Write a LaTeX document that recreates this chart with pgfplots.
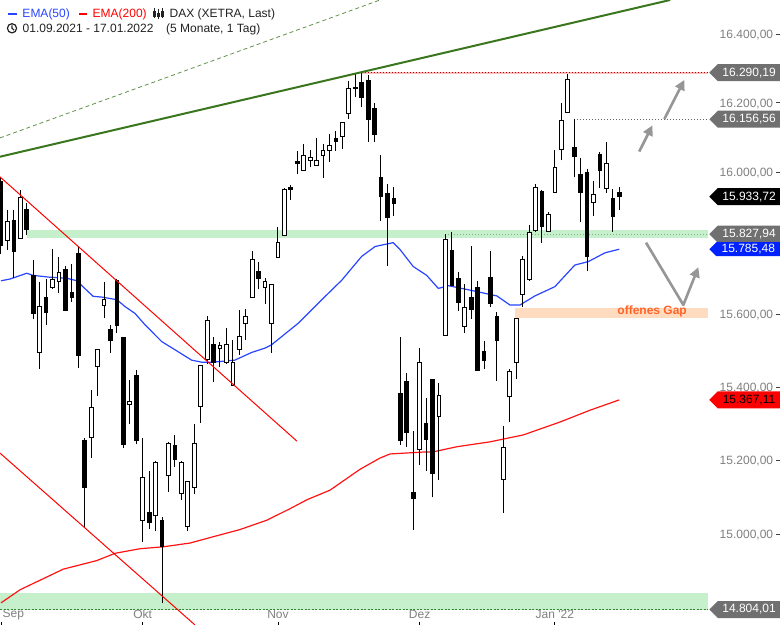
\documentclass[border=0pt]{standalone}
\usepackage{pgfplots}
\pgfplotsset{compat=1.18}
\usepackage{pgfplotstable}
\usepackage{fontspec}
\setmainfont{Liberation Sans}
\usetikzlibrary{arrows.meta,shapes.symbols}

\definecolor{emablue}{RGB}{40,70,255}
\definecolor{emared}{RGB}{255,20,20}
\definecolor{bandgreen}{RGB}{198,239,204}
\definecolor{trendgreen}{RGB}{58,118,30}
\definecolor{gapfill}{RGB}{255,220,192}
\definecolor{gaptext}{RGB}{255,100,40}
\definecolor{tickgray}{RGB}{128,128,128}
\definecolor{boxgray}{RGB}{112,112,112}
\definecolor{arrowgray}{RGB}{150,150,150}
\definecolor{boxblue}{RGB}{0,34,255}
\definecolor{legtext}{RGB}{34,34,34}

\newcommand\lab{\fontsize{12bp}{14bp}\selectfont}
\newcommand\ytl[1]{\mbox{#1\hspace{2.7bp}\textcolor{black!75}{\rule[0.33em]{4bp}{0.9bp}}}}

% d = trading day index (0 = 01.09.2021), o h l c, t = 1 rising (white), 0 falling (black)
\pgfplotstableread{
d o h l c t
0 15979 15987 15772 15795 0
1 15810 15897 15784 15863 1
2 15866 15895 15704 15779 0
3 15816 15953 15814 15930 1
4 15897 15916 15826 15840 0
5 15713 15756 15591 15606 0
6 15497 15695 15452 15625 1
7 15650 15701 15575 15608 0
8 15678 15786 15673 15702 1
9 15696 15763 15664 15721 1
10 15730 15739 15612 15614 0
11 15665 15744 15638 15650 0
12 15774 15795 15456 15489 0
13 15258 15263 15024 15129 0
14 15265 15395 15208 15347 1
15 15461 15507 15378 15505 1
16 15628 15693 15594 15644 1
17 15562 15574 15497 15530 0
18 15699 15702 15553 15572 0
19 15539 15541 15236 15245 0
20 15356 15422 15302 15364 1
21 15433 15450 15247 15258 0
22 15042 15264 14984 15157 1
23 15062 15174 15018 15036 0
24 15054 15201 15013 15197 1
25 15040 15051 14820 14971 0
26 15161 15252 15118 15249 1
27 15243 15270 15186 15206 0
28 15114 15201 15096 15198 1
29 15024 15146 15013 15145 1
30 15130 15302 15111 15249 1
31 15349 15463 15305 15462 1
32 15479 15600 15466 15586 1
33 15519 15542 15417 15472 0
34 15508 15526 15458 15516 1
35 15472 15567 15466 15521 1
36 15408 15532 15406 15472 1
37 15507 15616 15491 15542 1
38 15579 15618 15532 15597 1
39 15651 15782 15650 15756 1
40 15723 15750 15673 15704 0
41 15678 15704 15632 15695 1
42 15579 15688 15497 15687 1
43 15763 15849 15762 15805 1
44 15824 15960 15822 15953 1
45 15960 15968 15925 15955 0
46 16036 16065 15998 16029 0
47 16010 16084 16009 16051 1
48 16037 16067 16018 16044 1
49 16024 16101 16023 16039 1
50 16051 16084 15987 16067 1
51 16065 16113 16034 16082 1
52 16099 16122 16065 16091 0
53 16105 16147 16070 16146 1
54 16173 16266 16156 16245 1
55 16248 16286 16218 16242 0
56 16261 16290.19 16192 16219 0
57 16269 16284 16091 16156 0
58 16187 16202 16091 16113 0
59 15988 16053 15865 15934 0
60 15942 15972 15739 15875 0
61 15928 15963 15878 15914 0
62 15384 15542 15245 15256 0
63 15419 15441 15240 15278 0
64 15117 15281 15015 15100 0
65 15231 15511 15190 15471 1
66 15302 15372 15175 15261 0
67 15422 15422 15103 15169 0
68 15322 15413 15150 15381 1
69 15544 15829 15543 15815 1
70 15781 15833 15682 15683 0
71 15704 15723 15614 15637 0
72 15569 15688 15551 15623 1
73 15651 15795 15591 15618 0
74 15679 15697 15447 15448 0
75 15500 15530 15454 15477 0
76 15707 15779 15623 15634 0
77 15598 15609 15419 15532 0
78 15152 15296 15062 15238 1
79 15378 15451 15306 15447 1
80 15472 15594 15425 15593 1
81 15660 15767 15623 15756 1
82 15702 15854 15697 15833 1
83 15838 15972 15833 15961 1
84 15950 15953 15804 15849 0
85 15835 15892 15834 15884 1
86 15946 16067 15945 16018 1
87 16069 16202 16037 16151 1
88 16176 16285 16175 16272 1
89 16075 16156.56 15989 16048 0
90 15998 16044 15863 15946 0
91 16002 16012 15725 15765 0
92 15919 15977 15880 15941 1
93 16053 16061 15958 16008 0
94 15958 16091 15944 16029 1
95 15928 15956 15835 15880 0
96 15947 15963 15895 15933.72 0
}\candles

\pgfplotstableread{
d v
0 15697
1.4 15702
4.0 15718
5.0 15713
7.6 15707
10.25 15704
11.8 15697
13.0 15676
14.3 15653
15.8 15651
18.0 15644
19.25 15625
20.8 15606
22.4 15574
24.95 15528
27.0 15505
29.6 15477
31.2 15472
32.7 15472
36.3 15477
38.9 15497
41.0 15510
42.0 15519
46.2 15579
49.8 15644
52.9 15699
56.0 15765
58.1 15793
60.9 15804
62.0 15784
64.0 15737
66.1 15713
67.9 15676
69.5 15683
72.8 15671
77.0 15655
79.0 15630
80.6 15630
82.9 15655
86.0 15681
89.1 15741
91.2 15751
93.8 15776
96 15785.48
}\emafifty

\pgfplotstableread{
d v
0 14822
2.95 14856
9.67 14911
14.86 14933
17.7 14953
21.6 14965
25.2 14971
29.35 14980
32.97 14997
37.1 15017
41.3 15042
44.9 15073
47.5 15096
51.1 15123
55.75 15179
58.85 15209
60.4 15220
65.6 15225
67.1 15226
70.8 15240
75.9 15253
81.1 15272
86.8 15307
91.5 15340
96 15367.11
}\ematwohundred

\begin{document}
\begin{tikzpicture}[x=1bp,y=1bp]
\useasboundingbox (0,0) rectangle (780,625);
\fill[white] (0,0) rectangle (780,625);
\begin{axis}[
  at={(0,0)}, anchor=south west,
  scale only axis, width=708bp, height=625bp,
  xmin=-0.155, xmax=109.78,
  y coord trafo/.code={\begingroup\pgfkeys{/pgf/fpu=true,/pgf/fpu/output format=fixed}\pgfmathparse{ln(#1)}\xdef\lntmp{\pgfmathresult}\endgroup\let\pgfmathresult\lntmp},
  y coord inv trafo/.code={\begingroup\pgfkeys{/pgf/fpu=true,/pgf/fpu/output format=fixed}\pgfmathparse{exp(#1)}\xdef\lntmp{\pgfmathresult}\endgroup\let\pgfmathresult\lntmp},
  ymin=14762.9, ymax=16502.6,
  clip=false,
  axis line style={draw=none},
  xtick={0,22,43,65,86},
  xticklabels={{\makebox[0pt][l]{\hspace{1.7bp}Sep}},Okt,Nov,Dez,{Jan \textquotesingle 22}},
  xtick pos=left, tick align=inside, major tick length=3bp,
  xtick style={draw=black, line width=0.8bp},
  xticklabel style={anchor=center, yshift=10.5bp, text=tickgray, font=\lab},
  ytick={15000,15200,15400,15600,16000,16200,16400},
  yticklabels={{\ytl{15.000,00}},{\ytl{15.200,00}},{\ytl{15.400,00}},{\ytl{15.600,00}},{\ytl{16.000,00}},{\ytl{16.200,00}},{\ytl{16.400,00}}},
  yticklabel pos=right,
  ytick style={draw=none},
  yticklabel style={anchor=east, xshift=72bp, inner sep=0pt, text=tickgray, font=\lab},
]
% bands
\addplot[draw=none, fill=bandgreen, forget plot] coordinates {(4.05,15819) (109.78,15819) (109.78,15838.5) (4.05,15838.5)} -- cycle;
\addplot[draw=none, fill=bandgreen, forget plot] coordinates {(-0.155,14803) (109.78,14803) (109.78,14848) (-0.155,14848)} -- cycle;
\addplot[draw=none, fill=gapfill, forget plot] coordinates {(79.8,15592.5) (109.78,15592.5) (109.78,15620.4) (79.8,15620.4)} -- cycle;
% level lines
\addplot[color=black!45!green!60!gray, line width=0.7bp, dash pattern=on 2bp off 1.5bp, forget plot] coordinates {(-0.155,14804.01) (109.78,14804.01)};
\addplot[color=black!60!green!50, line width=0.8bp, dash pattern=on 1bp off 2bp, forget plot] coordinates {(69,15827.94) (109.78,15827.94)};
\addplot[color=red!25, line width=2.2bp, forget plot] coordinates {(56,16289) (109.78,16289)};
\addplot[color=red!70!black, line width=0.7bp, dash pattern=on 1bp off 2bp, forget plot] coordinates {(56,16290.19) (109.78,16290.19)};
\addplot[color=black!60, line width=0.8bp, dash pattern=on 1bp off 2bp, forget plot] coordinates {(89,16156.56) (109.78,16156.56)};
% moving averages
\addplot[color=emared, line width=1.2bp, forget plot] table[x=d, y=v] {\ematwohundred};
\addplot[color=emablue, line width=1.2bp, forget plot] table[x=d, y=v] {\emafifty};
% candles
\pgfplotstablegetrowsof{\candles}
\pgfmathtruncatemacro\nrows{\pgfplotsretval-1}
\pgfplotsforeachungrouped \i in {0,...,\nrows}{%
  \pgfplotstablegetelem{\i}{d}\of\candles \let\cd\pgfplotsretval
  \pgfplotstablegetelem{\i}{o}\of\candles \let\co\pgfplotsretval
  \pgfplotstablegetelem{\i}{h}\of\candles \let\ch\pgfplotsretval
  \pgfplotstablegetelem{\i}{l}\of\candles \let\cl\pgfplotsretval
  \pgfplotstablegetelem{\i}{c}\of\candles \let\cc\pgfplotsretval
  \pgfmathsetmacro\xa{\cd-0.29}%
  \pgfmathsetmacro\xb{\cd+0.29}%
  \pgfplotstablegetelem{\i}{t}\of\candles
  \ifnum\pgfplotsretval=1 \def\cfill{white}\else\def\cfill{black}\fi
  \edef\doplot{%
    \noexpand\addplot[black, line width=1bp, forget plot] coordinates {(\cd,\cl) (\cd,\ch)};
    \noexpand\addplot[draw=black, fill=\cfill, line width=0.9bp, forget plot] coordinates {(\xa,\co) (\xb,\co) (\xb,\cc) (\xa,\cc)} -- cycle;
  }%
  \doplot
}
% trend lines
\addplot[color=trendgreen, line width=2bp, forget plot] coordinates {(-0.155,16047.3) (103.9,16502.6)};
\addplot[color=trendgreen!80, line width=0.8bp, dash pattern=on 4bp off 3bp, forget plot] coordinates {(-0.155,16101.7) (58.85,16502.6)};
\addplot[color=red, line width=1bp, forget plot] coordinates {(-0.155,15990.2) (45.96,15255.3)};
\addplot[color=red, line width=1bp, forget plot] coordinates {(-0.155,15222.7) (30.1,14763.1)};
% arrows
\draw[arrowgray, line width=2.6bp, -{Triangle[length=10bp,width=10bp]}] (axis cs:99.1,16062.5) -- (axis cs:101.14,16137.6);
\draw[arrowgray, line width=2.6bp, -{Triangle[length=10bp,width=10bp]}] (axis cs:103.0,16156.3) -- (axis cs:106.1,16269);
\draw[arrowgray, line width=2.6bp, line join=round, -{Triangle[length=10bp,width=10bp]}] (axis cs:100.16,15804.1) -- (axis cs:105.95,15629.5) -- (axis cs:108.28,15734.9);
% value labels
\tikzset{vl/.style={signal, signal to=west, minimum height=17bp, minimum width=71bp, inner sep=1bp, anchor=west, xshift=1bp, font=\lab, text=white}}
\node[vl, fill=boxgray] at (axis cs:109.78,16290.19) {16.290,19};
\node[vl, fill=boxgray] at (axis cs:109.78,16156.56) {16.156,56};
\node[vl, fill=black] at (axis cs:109.78,15933.72) {15.933,72};
\node[vl, fill=boxgray] at (axis cs:109.78,15827.94) {15.827,94};
\node[vl, fill=boxblue, minimum height=14bp] at (axis cs:109.78,15785.48) {15.785,48};
\node[vl, fill=red, text=black] at (axis cs:109.78,15367.11) {15.367,11};
\node[vl, fill=boxgray] at (axis cs:109.78,14804.01) {14.804,01};
\end{axis}
% gap text
\node[anchor=base east, inner sep=0pt, text=gaptext, font=\lab\bfseries] at (687,310) {offenes Gap};
% legend
\fill[emablue] (8.3,609.7) rectangle (16.7,612.3);
\node[anchor=base west, inner sep=0pt, text=emablue, font=\lab] at (22.3,607.7) {EMA(50)};
\fill[red] (79.3,609.7) rectangle (87.3,612.3);
\node[anchor=base west, inner sep=0pt, text=red, font=\lab] at (92.5,607.7) {EMA(200)};
\begin{scope}[legtext, line width=0.8bp]
  \draw (154.5,606.5) -- (154.5,617); \draw (153.3,609) rectangle (155.7,613.5);
  \draw (158.5,606) -- (158.5,616); \fill (157.3,608) rectangle (159.7,612);
  \draw (162.5,607) -- (162.5,617); \draw (161.3,608.5) rectangle (163.7,614);
\end{scope}
\node[anchor=base west, inner sep=0pt, text=legtext, font=\lab] at (169.5,607.7) {DAX (XETRA, Last)};
\draw[legtext, line width=1.2bp] (12,596.7) circle (4.6bp);
\draw[legtext, line width=1.1bp] (12,599.5) -- (12,596.7) -- (14.2,594.8);
\node[anchor=base west, inner sep=0pt, text=legtext, font=\lab] at (22.5,592.3) {01.09.2021 - 17.01.2022};
\node[anchor=base west, inner sep=0pt, text=legtext, font=\lab] at (166,592.3) {(5 Monate, 1 Tag)};
\end{tikzpicture}
\end{document}
